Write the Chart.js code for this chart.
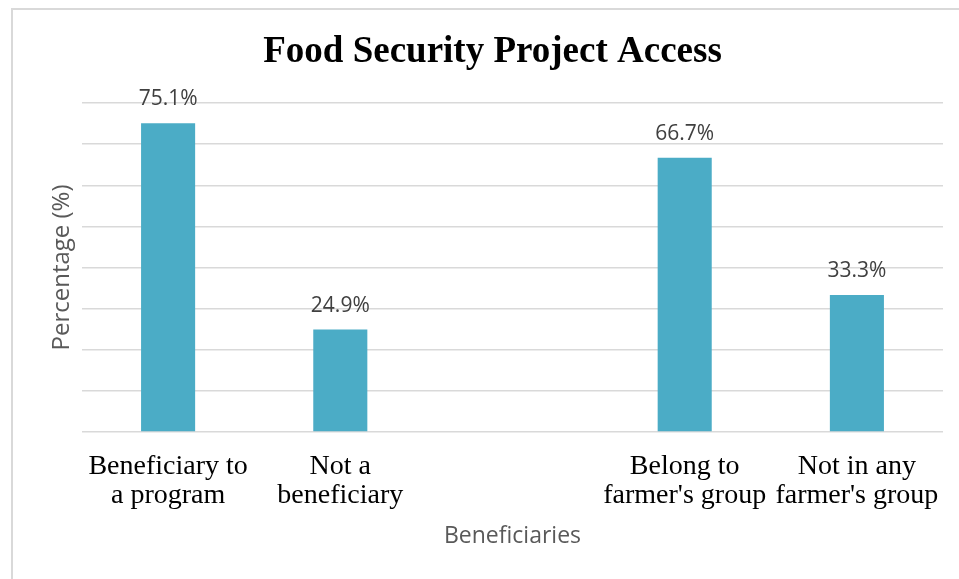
<!DOCTYPE html>
<html>
<head>
<meta charset="utf-8">
<script src="https://cdn.jsdelivr.net/npm/chart.js@4/dist/chart.umd.min.js"></script>
<style>
  html, body { margin: 0; padding: 0; background: #ffffff; }
  #wrap { position: relative; width: 959px; height: 579px; }
  #frame {
    position: absolute; left: 11px; top: 8px; right: 0; bottom: 0;
    border-left: 2px solid #d9d9d9; border-top: 2px solid #d9d9d9;
    pointer-events: none;
  }
</style>
</head>
<body>
<div id="wrap">
  <canvas id="myChart" width="959" height="579"></canvas>
  <div id="frame"></div>
</div>
<script>
// categories (split into lines the way they wrap in the picture)
const categories = [
  ["Beneficiary to", "a program"],
  ["Not a", "beneficiary"],
  "",
  ["Belong to", "farmer's group"],
  ["Not in any", "farmer's group"]
];
const percentages = [75.1, 24.9, null, 66.7, 33.3];
const yTicks = [0, 10, 20, 30, 40, 50, 60, 70, 80];

const barColor = "#4bacc6";

// writes "xx.x%" above each bar
const barLabels = {
  id: "barLabels",
  afterDatasetsDraw(chart) {
    const ctx = chart.ctx;
    const meta = chart.getDatasetMeta(0);
    ctx.save();
    ctx.font = "21px 'Open Sans'";
    ctx.fillStyle = "#404040";
    ctx.textAlign = "center";
    ctx.textBaseline = "alphabetic";
    meta.data.forEach((bar, i) => {
      const v = percentages[i];
      if (v === null) return;
      ctx.fillText(v.toFixed(1) + "%", bar.x, bar.y - 18);
    });
    ctx.restore();
  }
};

const ctx = document.getElementById("myChart").getContext("2d");
const myChart = new Chart(ctx, {
  type: "bar",
  data: {
    labels: categories,
    datasets: [{
      data: percentages,
      backgroundColor: barColor,
      borderWidth: 0,
      barPercentage: 0.314,
      categoryPercentage: 1
    }]
  },
  options: {
    responsive: false,
    animation: false,
    layout: { padding: { left: 42, right: 16, top: 0, bottom: 0 } },
    plugins: {
      legend: { display: false },
      tooltip: { enabled: false },
      title: {
        display: true,
        text: "Food Security Project Access",
        color: "#000000",
        font: { family: "'Liberation Serif'", size: 37, weight: "bold", lineHeight: 1.2 },
        padding: { top: 30, bottom: 28.6 }
      }
    },
    scales: {
      x: {
        grid: { display: false },
        border: { display: false },
        ticks: {
          color: "#000000",
          font: { family: "'Liberation Serif'", size: 28, lineHeight: 1.05 },
          padding: 12,
          maxRotation: 0,
          autoSkip: false
        },
        title: {
          display: true,
          text: "Beneficiaries",
          color: "#595959",
          font: { family: "'Open Sans'", size: 23, lineHeight: 1.2 },
          padding: { top: 0, bottom: 29 }
        },
        afterFit(scale) { scale.height = 147; }
      },
      y: {
        min: 0,
        max: 80,
        afterBuildTicks(scale) { scale.ticks = yTicks.map(v => ({ value: v })); },
        ticks: { display: false },
        grid: { color: "#d9d9d9", lineWidth: 1.5, drawTicks: false },
        border: { display: false },
        title: {
          display: true,
          text: "Percentage (%)",
          color: "#595959",
          font: { family: "'Open Sans'", size: 24, lineHeight: 1.2 },
          padding: { top: 6, bottom: 0 }
        },
        afterFit(scale) { scale.width = 40; }
      }
    }
  },
  plugins: [barLabels]
});
</script>
</body>
</html>
